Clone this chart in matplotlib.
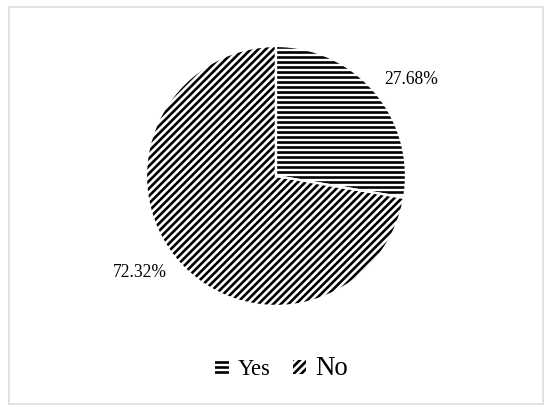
import matplotlib.pyplot as plt
import numpy as np
from matplotlib.patches import Rectangle

labels = ['Yes', 'No']
shares = [27.68, 72.32]
hatches = ['---', '////']

DPI = 90  # hatch spacing scales with dpi, 90 gives the reference stripe pitch

plt.rcParams['font.family'] = ['Liberation Serif', 'DejaVu Serif']
plt.rcParams['hatch.linewidth'] = 2.1
plt.rcParams['hatch.color'] = 'black'

fig = plt.figure(figsize=(550 / DPI, 413 / DPI), dpi=DPI)
ax = fig.add_axes([0.229, 0.2107, 0.5455, 0.7264])

wedges, texts, autotexts = ax.pie(shares, startangle=90, counterclock=False,
                                  autopct='%.2f%%',
                                  wedgeprops=dict(facecolor='white', edgecolor='black', linewidth=0))
for w, h in zip(wedges, hatches):
    w.set_hatch(h)

# labels sit a bit clockwise of the slice middle, like the original
for w, t in zip(wedges, autotexts):
    mid = np.deg2rad((w.theta1 + w.theta2) / 2 - 4.8)
    t.set_position((1.28 * np.cos(mid), 1.28 * np.sin(mid)))
    t.set_fontsize(14)

# white gaps between slices
ax.pie(shares, startangle=90, counterclock=False,
       wedgeprops=dict(fill=False, edgecolor='white', linewidth=1.8))

ax.set_xlim(-1.1538, 1.1538)
ax.set_ylim(-1.1538, 1.1538)
ax.set_aspect('equal')
ax.axis('off')

leg = fig.legend(wedges, labels, loc='center', bbox_to_anchor=(0.512, 0.108),
                 ncol=2, frameon=False, handlelength=0.6, handleheight=0.6,
                 handletextpad=0.4, columnspacing=1.0, fontsize=18)
leg.get_texts()[1].set_fontsize(21.5)

fig.patches.append(Rectangle((9 / 550, 9 / 413), 534 / 550, 397 / 413,
                             transform=fig.transFigure, fill=False,
                             edgecolor='#d9d9d9', linewidth=1.2))

plt.savefig('out.png', dpi=DPI)
